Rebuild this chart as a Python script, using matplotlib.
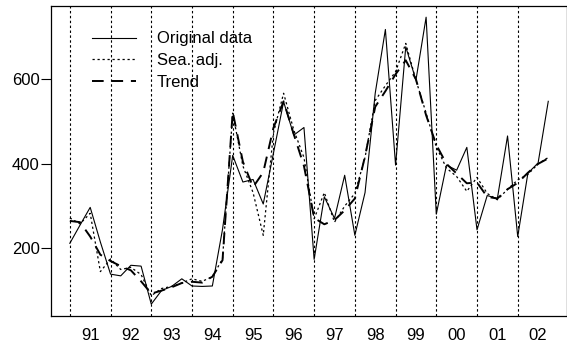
import matplotlib
matplotlib.use("Agg")
import matplotlib.pyplot as plt
import numpy as np

years = [1991, 1992, 1993, 1994, 1995, 1996, 1997, 1998, 1999, 2000, 2001, 2002]
year_labels = ["91", "92", "93", "94", "95", "96", "97", "98", "99", "00", "01", "02"]

original = [212, 255, 297, 215,
            139, 135, 160, 158,
            68, 100, 110, 128,
            111, 110, 111, 245,
            420, 357, 363, 305,
            425, 547, 468, 486,
            174, 322, 271, 373,
            231, 332, 567, 718,
            397, 677, 598, 747,
            281, 397, 385, 439,
            244, 325, 318, 466,
            228, 378, 402, 548]

sea_adj = [272, 258, 283, 145,
           175, 150, 155, 138,
           88, 105, 110, 118,
           128, 122, 133, 175,
           520, 395, 332, 231,
           473, 567, 480, 415,
           270, 332, 262, 300,
           330, 415, 550, 585,
           618, 685, 598, 520,
           440, 390, 370, 335,
           368, 330, 315, 340,
           362, 375, 400, 415]

trend = [265, 262, 228, 185,
         170, 158, 148, 122,
         93, 100, 108, 118,
         121, 119, 133, 172,
         523, 405, 345, 380,
         485, 548, 470, 395,
         272, 257, 267, 290,
         318, 418, 535, 572,
         612, 645, 600, 515,
         445, 400, 377, 354,
         356, 322, 318, 340,
         355, 379, 400, 413]

y_ticks = [200, 400, 600]

plt.rcParams['font.family'] = ['Liberation Sans', 'DejaVu Sans']

W, H = 567, 347
fig = plt.figure(figsize=(W / 100, H / 100), dpi=100)
left, right, top, bottom = 50.7, 567.4, 6, 316
ax = fig.add_axes([left / W, (H - bottom) / H, (right - left) / W, (bottom - top) / H])

t = np.array(years[0] + np.arange(len(original)) / 4.0)

for y in years:
    ax.axvline(y, color='black', lw=0.8, linestyle=(0, (2.2, 2.2)), zorder=1)

ax.plot(t, original, color='black', lw=0.8, linestyle='-', label='Original data', zorder=3)
ax.plot(t, sea_adj, color='black', lw=0.9, linestyle=(0, (1.8, 2.2)), label='Sea. adj.', zorder=3)
ax.plot(t, trend, color='black', lw=1.4, linestyle=(0, (6, 4)), label='Trend', zorder=3)

xmin, xmax = t[0], t[-1]
pad = 0.04 * (xmax - xmin)
ax.set_xlim(xmin - pad, xmax + pad)
ax.set_ylim(40, 773.5)

ax.set_xticks([y + 0.5 for y in years])
ax.set_xticklabels(year_labels)
ax.tick_params(axis='x', length=0, pad=9, labelsize=12)
ax.set_yticks(y_ticks)
ax.tick_params(axis='y', length=7, width=0.8, pad=1, labelsize=12)

for s in ['left', 'bottom', 'top', 'right']:
    ax.spines[s].set_linewidth(0.9)

leg = ax.legend(loc='upper left', bbox_to_anchor=(0.0794, 0.918), frameon=False,
                fontsize=12, handlelength=2.65, handletextpad=1.24,
                labelspacing=0.41, borderpad=0, borderaxespad=0)

fig.savefig('out.png', dpi=100)
